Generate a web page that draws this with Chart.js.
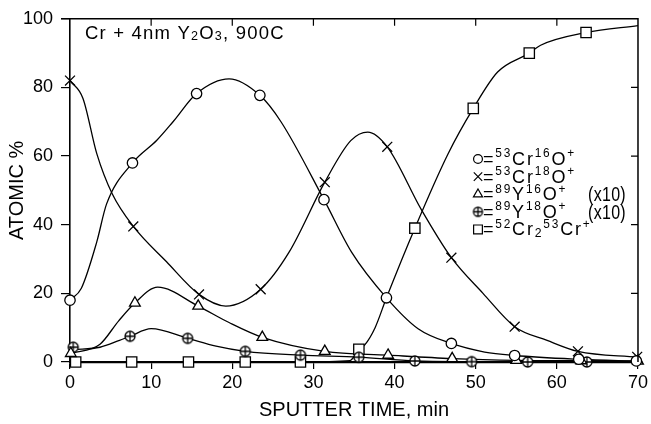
<!DOCTYPE html>
<html>
<head>
<meta charset="utf-8">
<title>Cr + 4nm Y2O3, 900C</title>
<script src="https://cdn.jsdelivr.net/npm/chart.js@4.4.1/dist/chart.umd.min.js"></script>
<style>
  html, body { margin: 0; padding: 0; background: #fff; }
  canvas { display: block; }
</style>
</head>
<body>
<canvas id="chart" width="651" height="424"></canvas>
<script>
const FONT = "'Liberation Sans', Arial, sans-serif";

// marker positions (sputter time in min, atomic %)
const cr16Time = [0, 7.7, 15.6, 23.4, 31.3, 39, 47, 54.8, 62.7, 69.8];
const cr16Vals = [18, 58, 78.2, 77.7, 47.3, 18.7, 5.4, 1.9, 0.8, 0.3];
const cr18Time = [0, 7.8, 15.9, 23.5, 31.4, 39.1, 47, 54.8, 62.6, 69.9];
const cr18Vals = [82, 39.5, 19.7, 21.2, 52.4, 62.7, 30.4, 10.3, 3.1, 1.5];
const y16Time = [0.1, 8, 15.8, 23.7, 31.4, 39.2, 47.1, 55, 63, 70];
const y16Vals = [2.5, 17.2, 16.3, 7.2, 3.1, 2, 1, 0.5, 0.4, 0.3];
const y18Time = [0.4, 7.4, 14.5, 21.6, 28.4, 35.6, 42.5, 49.5, 56.4, 63.7];
const y18Vals = [4.3, 7.5, 6.9, 3.1, 2, 1.4, 0.3, 0.1, 0, 0];
const cr3Time = [0.7, 7.6, 14.6, 21.6, 28.4, 35.6, 42.5, 49.7, 56.6, 63.6];
const cr3Vals = [0, 0, 0, 0, 0, 3.7, 39, 73.9, 90, 96];

// the drawn curves (traced guide points, they do not only run through the markers)
const cr16CurveT = [0, 1.4, 3.3, 4.5, 7.7, 10.7, 12.7, 15.6, 19.6, 23.4, 26, 31.3, 34.7, 39, 42.9, 47, 51.1, 54.8, 62.7, 70];
const cr16CurveV = [18, 21.5, 35, 46, 58, 64.6, 70, 78.2, 82.5, 77.7, 70, 47.3, 32, 18.7, 9.7, 5.4, 2.9, 1.9, 0.8, 0.2];
const cr18CurveT = [0, 1.6, 3.3, 5.2, 7.8, 11.9, 15.9, 19.2, 23.5, 27, 31.4, 34.6, 36.7, 39.1, 43.3, 47, 50.9, 54.8, 58.8, 62.6, 70];
const cr18CurveV = [82, 76.8, 60.7, 49, 39.5, 29.2, 19.7, 16.3, 21.2, 32, 52.4, 64.5, 67, 62.7, 44.4, 30.4, 20, 10.3, 6.3, 3.1, 1.4];
const y16CurveT = [0.1, 3.7, 6, 8, 10.8, 15.8, 19.6, 23.7, 31.4, 39.2, 47.1, 55, 63, 70];
const y16CurveV = [2.5, 5.2, 12, 17.2, 21.8, 16.3, 11.5, 7.2, 3.1, 2, 1, 0.5, 0.4, 0.3];
const y18CurveT = [0.4, 3.7, 6.1, 7.4, 10, 14.5, 18, 21.6, 28.4, 35.6, 42.5, 49.5, 56.4, 63.7, 70];
const y18CurveV = [3.6, 4.3, 6.3, 7.5, 9.7, 6.9, 4.6, 3.1, 2, 1.4, 0.3, 0.1, 0, 0, 0];
const cr3CurveT = [0, 7.6, 14.6, 21.6, 28.4, 34.5, 35.6, 36.3, 37.6, 39, 42.5, 46.6, 49.7, 52.7, 56.6, 58, 63.6, 70];
const cr3CurveV = [0, 0, 0, 0, 0, 0.4, 3.7, 4.9, 10, 18.7, 39, 60.7, 73.9, 84.5, 90, 92.3, 96, 98];

const titleParts = [["Cr + 4nm Y", "n"], ["2", "sub"], ["O", "n"], ["3", "sub"], [", 900C", "n"]];
const legendParts = [
  [["=", "n"], ["53", "sup"], ["Cr", "n"], ["16", "sup"], ["O", "n"], ["+", "sup"]],
  [["=", "n"], ["53", "sup"], ["Cr", "n"], ["18", "sup"], ["O", "n"], ["+", "sup"]],
  [["=", "n"], ["89", "sup"], ["Y", "n"], ["16", "sup"], ["O", "n"], ["+", "sup"]],
  [["=", "n"], ["89", "sup"], ["Y", "n"], ["18", "sup"], ["O", "n"], ["+", "sup"]],
  [["=", "n"], ["52", "sup"], ["Cr", "n"], ["2", "sub"], ["53", "sup"], ["Cr", "n"], ["+", "sup"]],
];
const legendScale = ["", "", "(x10)", "(x10)", ""];

function pts(ts, vs) {
  return ts.map((t, i) => ({x: t, y: vs[i]}));
}

// circle with a plus inside, the fourth marker
function plusCircle(r) {
  const c = document.createElement("canvas");
  const s = Math.ceil(2 * r + 4);
  c.width = c.height = s;
  const g = c.getContext("2d");
  g.strokeStyle = "#000";
  g.fillStyle = "#fff";
  g.lineWidth = 1.3;
  g.beginPath();
  g.arc(s / 2, s / 2, r, 0, Math.PI * 2);
  g.fill();
  g.stroke();
  g.beginPath();
  g.moveTo(s / 2 - r, s / 2);
  g.lineTo(s / 2 + r, s / 2);
  g.moveTo(s / 2, s / 2 - r);
  g.lineTo(s / 2, s / 2 + r);
  g.stroke();
  return c;
}
const plusMark = plusCircle(5);
const plusMarkSmall = plusCircle(4.5);

const markerStyles = [
  {pointStyle: "circle", radius: 5.2},
  {pointStyle: "crossRot", radius: 7},
  {pointStyle: "triangle", radius: 6.2},
  {pointStyle: plusMark, radius: 6},
  {pointStyle: "rect", radius: 7.3},
];

function curve(ts, vs) {
  return {
    type: "line",
    data: pts(ts, vs),
    showLine: true,
    borderColor: "#000",
    borderWidth: 1.3,
    pointRadius: 0,
    cubicInterpolationMode: "monotone",
    order: 2,
  };
}

function markers(ts, vs, style) {
  return {
    type: "scatter",
    data: pts(ts, vs),
    showLine: false,
    pointStyle: style.pointStyle,
    pointRadius: style.radius,
    pointBorderColor: "#000",
    pointBackgroundColor: "#fff",
    pointBorderWidth: 1.3,
    clip: false,
    order: 1,
  };
}

function drawRich(ctx, x, y, parts, size, spacing) {
  ctx.textBaseline = "alphabetic";
  ctx.textAlign = "left";
  ctx.letterSpacing = spacing + "px";
  parts.forEach(([text, kind]) => {
    let fs = size, dy = 0;
    if (kind === "sup") { fs = size * 0.66; dy = -size * 0.42; }
    if (kind === "sub") { fs = size * 0.68; dy = size * 0.08; }
    ctx.font = fs + "px " + FONT;
    ctx.fillText(text, x, y + dy);
    x += ctx.measureText(text).width;
  });
  ctx.letterSpacing = "0px";
}

const framePlugin = {
  id: "frame",
  afterDraw(chart) {
    const {ctx, chartArea: a, scales: {x, y}} = chart;
    ctx.save();
    ctx.strokeStyle = "#000";
    ctx.fillStyle = "#000";
    ctx.lineWidth = 1.5;
    ctx.beginPath();
    ctx.moveTo(a.left - 9, a.top);
    ctx.lineTo(a.right, a.top);
    ctx.lineTo(a.right, a.bottom);
    ctx.stroke();

    // inner ticks on the top and right side
    ctx.lineWidth = 1.2;
    ctx.beginPath();
    x.ticks.forEach(t => {
      if (t.value <= x.min || t.value >= x.max) return;
      const px = x.getPixelForValue(t.value);
      ctx.moveTo(px, a.top);
      ctx.lineTo(px, a.top + 7);
    });
    y.ticks.forEach(t => {
      if (t.value <= y.min || t.value >= y.max) return;
      const py = y.getPixelForValue(t.value);
      ctx.moveTo(a.right, py);
      ctx.lineTo(a.right - 7, py);
    });
    ctx.stroke();

    drawRich(ctx, 85, 39, titleParts, 18.5, 1.2);

    // legend, drawn as text with the marker shapes in front
    legendParts.forEach((parts, i) => {
      const cy = 159 + i * 17.6;
      const st = markerStyles[i];
      ctx.lineWidth = 1.2;
      ctx.strokeStyle = "#000";
      ctx.fillStyle = "#fff";
      Chart.helpers.drawPoint(ctx, {
        pointStyle: i === 3 ? plusMarkSmall : st.pointStyle,
        radius: st.radius * 0.85,
        rotation: 0,
        borderWidth: 1.2,
      }, 478, cy);
      ctx.fillStyle = "#000";
      drawRich(ctx, 483, cy + 6, parts, 18, 1.8);
      if (legendScale[i]) {
        // tall parentheses as in the original lettering
        ctx.save();
        ctx.translate(588, cy + 7);
        ctx.scale(1, 1.3);
        ctx.font = "16px " + FONT;
        ctx.letterSpacing = "0.3px";
        ctx.fillText(legendScale[i], 0, 0);
        ctx.restore();
      }
    });
    ctx.restore();
  },
};

const tickFont = {family: FONT, size: 18};

new Chart(document.getElementById("chart"), {
  type: "scatter",
  data: {
    datasets: [
      markers(cr16Time, cr16Vals, markerStyles[0]),
      markers(cr18Time, cr18Vals, markerStyles[1]),
      markers(y16Time, y16Vals, markerStyles[2]),
      markers(y18Time, y18Vals, markerStyles[3]),
      markers(cr3Time, cr3Vals, markerStyles[4]),
      curve(cr16CurveT, cr16CurveV),
      curve(cr18CurveT, cr18CurveV),
      curve(y16CurveT, y16CurveV),
      curve(y18CurveT, y18CurveV),
      curve(cr3CurveT, cr3CurveV),
    ],
  },
  options: {
    responsive: false,
    animation: false,
    layout: {padding: {top: 13, right: 11, left: 0, bottom: 0}},
    plugins: {legend: {display: false}, tooltip: {enabled: false}},
    scales: {
      x: {
        type: "linear",
        min: 0,
        max: 70,
        ticks: {stepSize: 10, color: "#000", font: tickFont, padding: 3, maxRotation: 0},
        grid: {drawOnChartArea: false, drawTicks: true, tickLength: 7, color: "#000", lineWidth: 1.2},
        border: {display: true, color: "#000", width: 2.2},
        title: {
          display: true,
          text: "SPUTTER TIME, min",
          color: "#000",
          font: {family: FONT, size: 20},
          padding: {top: 0, bottom: 2},
        },
        afterFit(scale) { scale.height = 62; },
      },
      y: {
        type: "linear",
        min: 0,
        max: 100,
        ticks: {stepSize: 20, color: "#000", font: tickFont, padding: 8},
        grid: {drawOnChartArea: false, drawTicks: true, tickLength: 9, color: "#000", lineWidth: 1.2},
        border: {display: true, color: "#000", width: 1.6},
        title: {
          display: true,
          text: "ATOMIC %",
          color: "#000",
          font: {family: FONT, size: 20},
          padding: {top: 5, bottom: 0},
        },
        afterFit(scale) { scale.width = 70; },
      },
    },
  },
  plugins: [framePlugin],
});
</script>
</body>
</html>
